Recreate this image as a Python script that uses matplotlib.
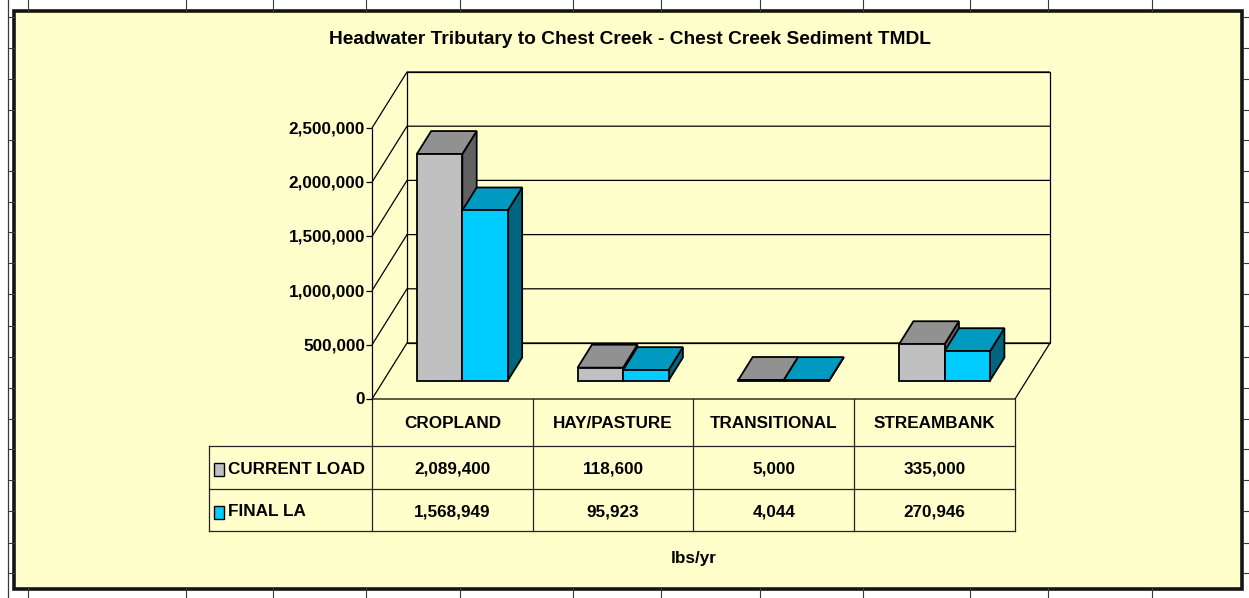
import matplotlib
matplotlib.use('Agg')
import matplotlib.pyplot as plt
from matplotlib.patches import Polygon, Rectangle

plt.rcParams['font.family'] = ['Liberation Sans', 'DejaVu Sans']
plt.rcParams['font.weight'] = 'bold'

# sediment loads, lbs/yr
categories = ['CROPLAND', 'HAY/PASTURE', 'TRANSITIONAL', 'STREAMBANK']
series_names = ['CURRENT LOAD', 'FINAL LA']
current_load = [2089400, 118600, 5000, 335000]
final_la = [1568949, 95923, 4044, 270946]
yticks = [0, 500000, 1000000, 1500000, 2000000, 2500000]
title = 'Headwater Tributary to Chest Creek - Chest Creek Sediment TMDL'
unit_label = 'lbs/yr'

# face colours: front, top, side
cur_cols = ('#C0C0C0', '#919191', '#616161')
fin_cols = ('#00CCFF', '#0099BF', '#00667F')

FS = 12.3

W, H = 1249, 598
fig = plt.figure(figsize=(W / 100, H / 100), dpi=100)
fig.patch.set_facecolor('white')

# pixel canvas (y down) for the frame, walls, table and text
bg = fig.add_axes([0, 0, 1, 1])
bg.set_xlim(0, W)
bg.set_ylim(H, 0)
bg.axis('off')

# front plane of the 3d plot
X0, X1, Y0, Y1 = 372, 1015, 399, 128
ax = fig.add_axes([X0 / W, (H - Y0) / H, (X1 - X0) / W, (Y0 - Y1) / H])
ax.set_xlim(0, len(categories))
ax.set_ylim(0, yticks[-1])
ax.axis('off')

DX, DY = 35, 56   # depth offset of the back wall in pixels


def P(x, v, d=0.0):
    px, py = ax.transData.transform((x, v))
    return (px + DX * d, H - py - DY * d)


# spreadsheet grid behind the chart object
grid_c = '#3a3a3a'
col_x = [28, 186, 273, 366, 460, 573, 661, 760, 863, 970, 1048, 1152]
row_y = [17, 48, 79, 110, 140, 171, 202, 232, 263, 294, 326, 357, 388,
         419, 449, 480, 511, 543, 573]
for x in col_x:
    bg.plot([x, x], [0, 12], color=grid_c, lw=0.8)
    bg.plot([x, x], [588, H], color=grid_c, lw=0.8)
bg.plot([8, 8], [0, H], color=grid_c, lw=0.9)
for y in row_y:
    bg.plot([8, 14], [y, y], color=grid_c, lw=0.8)
    bg.plot([1243, W], [y, y], color=grid_c, lw=0.8)

# chart area
bg.add_patch(Rectangle((14.5, 11), 1228, 577.5, facecolor='#FFFFCC',
                       edgecolor='#151515', lw=2.6, zorder=1))

bg.text(630, 39, title, ha='center', va='center', fontsize=13.8,
        fontweight='bold', zorder=5)

# walls and floor
wall_kw = dict(color='black', lw=0.9, zorder=2, solid_capstyle='butt')
top = yticks[-1]
n = len(categories)
bx = [P(0, 0, 1), P(n, 0, 1), P(n, top, 1), P(0, top, 1), P(0, 0, 1)]
bg.plot([p[0] for p in bx], [p[1] for p in bx], **wall_kw)
for t in yticks:
    a, b, c = P(0, t, 0), P(0, t, 1), P(n, t, 1)
    bg.plot([a[0], b[0], c[0]], [a[1], b[1], c[1]], **wall_kw)
    bg.plot([a[0] - 6, a[0]], [a[1], a[1]], **wall_kw)
    bg.text(a[0] - 7, a[1] + 1, f'{t:,}', ha='right', va='center',
            fontsize=FS, fontweight='bold', zorder=5)
a, b = P(0, 0, 0), P(0, top, 0)
bg.plot([a[0], b[0]], [a[1], b[1]], **wall_kw)
fl = [P(0, 0, 0), P(n, 0, 0), P(n, 0, 1)]
bg.plot([p[0] for p in fl], [p[1] for p in fl], **wall_kw)

# bars
bar_w = 0.283
d0, d1 = 0.33, 0.74
for i in range(n):
    for j, (vals, cols) in enumerate([(current_load, cur_cols), (final_la, fin_cols)]):
        xa = i + 0.49 - bar_w + j * bar_w
        xb = xa + bar_w
        v = vals[i]
        side = [P(xb, 0, d0), P(xb, 0, d1), P(xb, v, d1), P(xb, v, d0)]
        topf = [P(xa, v, d0), P(xb, v, d0), P(xb, v, d1), P(xa, v, d1)]
        front = [P(xa, 0, d0), P(xb, 0, d0), P(xb, v, d0), P(xa, v, d0)]
        for pts, fc in ((side, cols[2]), (topf, cols[1]), (front, cols[0])):
            bg.add_patch(Polygon(pts, closed=True, facecolor=fc,
                                 edgecolor='black', lw=1.3, zorder=3,
                                 joinstyle='miter'))

# data table
ex = [P(k, 0)[0] for k in range(n + 1)]
ty = [Y0, 446, 489, 531]
tab_kw = dict(color='#222222', lw=0.9, zorder=2)
LEFT = 209
for y in ty[1:]:
    bg.plot([LEFT, ex[-1]], [y, y], **tab_kw)
for x in ex:
    bg.plot([x, x], [ty[0], ty[-1]], **tab_kw)
bg.plot([LEFT, LEFT], [ty[1], ty[-1]], **tab_kw)

for k, cat in enumerate(categories):
    cx = (ex[k] + ex[k + 1]) / 2
    bg.text(cx, (ty[0] + ty[1]) / 2 + 1, cat, ha='center', va='center',
            fontsize=FS, fontweight='bold', zorder=5)
    for r, vals in enumerate([current_load, final_la]):
        bg.text(cx, (ty[r + 1] + ty[r + 2]) / 2 + 2, f'{vals[k]:,}',
                ha='center', va='center', fontsize=FS, fontweight='bold',
                zorder=5)

for r, (name, cols) in enumerate(zip(series_names, [cur_cols, fin_cols])):
    cy = (ty[r + 1] + ty[r + 2]) / 2 + 2
    bg.add_patch(Rectangle((214, cy - 6.5), 10, 13, facecolor=cols[0],
                           edgecolor='black', lw=1.0, zorder=4))
    bg.text(228, cy, name, ha='left', va='center', fontsize=FS,
            fontweight='bold', zorder=5)

bg.text((ex[0] + ex[-1]) / 2, 559, unit_label, ha='center', va='center',
        fontsize=FS, fontweight='bold', zorder=5)

fig.savefig('out.png', dpi=100, facecolor='white')
